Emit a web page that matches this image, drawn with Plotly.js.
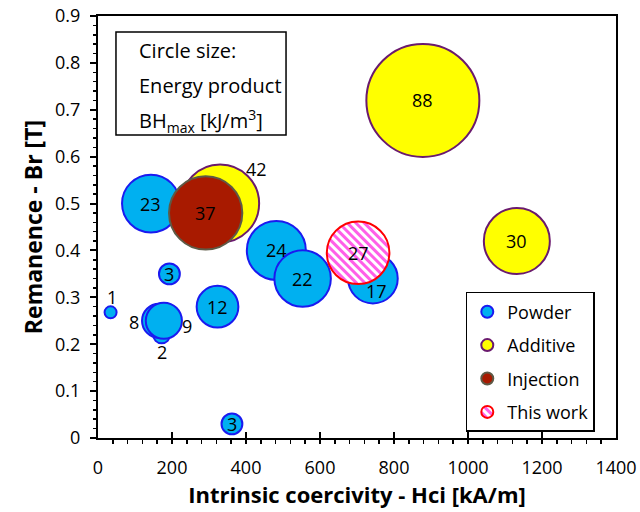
<!DOCTYPE html>
<html>
<head>
<meta charset="utf-8">
<script src="https://cdn.plot.ly/plotly-3.0.1.min.js"></script>
<style>
  html, body { margin: 0; padding: 0; background: #fff; }
  #chart { width: 640px; height: 512px; }
</style>
</head>
<body>
<div id="chart"></div>
<script>
// Bonded magnet comparison: remanence vs intrinsic coercivity,
// bubble area = energy product BHmax [kJ/m3]

// Powder-based magnets
const powderHci = [34, 172, 165, 178, 193, 143, 323, 482, 553, 743, 362];
const powderBr  = [0.268, 0.22, 0.25, 0.25, 0.35, 0.50, 0.28, 0.40, 0.34, 0.34, 0.03];
const powderBH  = [1, 2, 8, 9, 3, 23, 12, 24, 22, 17, 3];

// Magnets with additives
const additiveHci = [330, 878, 1132];
const additiveBr  = [0.50, 0.72, 0.42];
const additiveBH  = [42, 88, 30];

// Injection moulded magnet
const injectionHci = [291];
const injectionBr  = [0.48];
const injectionBH  = [37];

// Present work
const thisWorkHci = [703];
const thisWorkBr  = [0.395];
const thisWorkBH  = [27];

const seriesNames = ['Powder', 'Additive', 'Injection', 'This work'];

// label offsets (px) for labels that sit beside their bubble
const labelShift = {
  'Powder': [[1, 15], [0, -17], [-25, -1], [23, -5], [0, 0], [0, 0], [0, 0], [0, 0], [0, 0], [4, -12], [0, 0]],
  'Additive': [[36, 35], [0, 0], [0, 0]],
  'Injection': [[0, 0]],
  'This work': [[0, 0]]
};

const FONT = '"Open Sans", Lato, sans-serif';
const maxBH = Math.max(...powderBH, ...additiveBH, ...injectionBH, ...thisWorkBH);
const sizeref = 2 * maxBH / (113 * 113);

function bubbles(name, xs, ys, ss, fill, line, rank) {
  return {
    type: 'scatter', mode: 'markers', name: name,
    x: xs, y: ys, legendrank: rank, legendgroup: name,
    marker: {
      size: ss, sizemode: 'area', sizeref: sizeref, opacity: 1,
      color: fill, line: { color: line, width: 2 }
    },
    hoverinfo: 'x+y+text', text: ss.map(String)
  };
}

// drawing order: additive underneath powder, injection and this work on top
const traces = [
  bubbles('Additive', additiveHci, additiveBr, additiveBH, '#FFFF00', '#6A1A6E', 2),
  bubbles('Powder', powderHci, powderBr, powderBH, '#00B0F0', '#1A1AF0', 1),
  bubbles('Injection', injectionHci, injectionBr, injectionBH, '#A81A00', '#5E5A46', 3),
  bubbles('This work', thisWorkHci, thisWorkBr, thisWorkBH, '#FF5FE8', '#FF0000', 4)
];

const seriesData = {
  'Powder': [powderHci, powderBr, powderBH],
  'Additive': [additiveHci, additiveBr, additiveBH],
  'Injection': [injectionHci, injectionBr, injectionBH],
  'This work': [thisWorkHci, thisWorkBr, thisWorkBH]
};

const annotations = [];
seriesNames.forEach(name => {
  const [xs, ys, ss] = seriesData[name];
  xs.forEach((x, i) => {
    const sh = labelShift[name][i];
    annotations.push({
      x: x, y: ys[i], xref: 'x', yref: 'y', text: String(ss[i]),
      showarrow: false, xshift: sh[0], yshift: sh[1],
      font: { family: FONT, size: 18, color: '#000' }
    });
  });
});

// text box describing circle size
const boxLines = ['Circle size:', 'Energy product', 'BH<sub>max</sub> [kJ/m<sup>3</sup>]'];
const boxLineY = [0.919, 0.836, 0.752];
boxLines.forEach((t, i) => {
  annotations.push({
    x: 0.0753, y: boxLineY[i], xref: 'paper', yref: 'paper',
    xanchor: 'left', yanchor: 'middle', text: t, showarrow: false,
    font: { family: FONT, size: 20, color: '#000' }
  });
});

const axisCommon = {
  showline: true, linecolor: '#000', linewidth: 2, mirror: true,
  showgrid: false, zeroline: false,
  tickfont: { family: FONT, size: 18, color: '#000' },
  tickcolor: '#000', tickwidth: 2
};

const layout = {
  width: 640, height: 512,
  margin: { l: 98, r: 24, t: 16, b: 74 },
  paper_bgcolor: '#fff', plot_bgcolor: '#fff',
  showlegend: true,
  font: { family: FONT, color: '#000' },
  xaxis: Object.assign({}, axisCommon, {
    range: [0, 1400], dtick: 200, tick0: 0,
    ticks: 'inside', ticklen: 6, ticklabelstandoff: 12,
    minor: { ticks: 'outside', dtick: 40, ticklen: 4, tickcolor: '#000', tickwidth: 1.5 },
    title: { text: '<b>Intrinsic coercivity - Hci [kA/m]</b>', font: { family: FONT, size: 22, color: '#000' }, standoff: 10 }
  }),
  yaxis: Object.assign({}, axisCommon, {
    range: [0, 0.9], dtick: 0.1, tick0: 0,
    ticks: 'outside', ticklen: 6, ticklabelstandoff: 6,
    minor: { ticks: 'outside', dtick: 0.02, ticklen: 3, tickcolor: '#000', tickwidth: 1.5 },
    title: { text: '<b>Remanence - Br [T]</b>', font: { family: FONT, size: 23, color: '#000' }, standoff: 6 }
  }),
  legend: {
    x: 0.71, y: 0.346, xanchor: 'left', yanchor: 'top',
    bgcolor: '#fff', bordercolor: '#000', borderwidth: 1.5,
    font: { family: FONT, size: 18, color: '#000' },
    itemsizing: 'constant', itemwidth: 30, tracegroupgap: 7
  },
  shapes: [{
    type: 'rect', xref: 'paper', yref: 'paper',
    x0: 0.0347, x1: 0.363, y0: 0.718, y1: 0.962,
    line: { color: '#000', width: 1.5 }, fillcolor: 'rgba(0,0,0,0)', layer: 'above'
  }],
  annotations: annotations
};

Plotly.newPlot('chart', traces, layout, { displayModeBar: false, staticPlot: true }).then(gd => {
  // diagonal hatch fill for the "This work" bubble and its legend symbol
  const svgNS = 'http://www.w3.org/2000/svg';
  const defs = gd.querySelector('.main-svg defs');
  const pat = document.createElementNS(svgNS, 'pattern');
  pat.setAttribute('id', 'hatch-pink');
  pat.setAttribute('patternUnits', 'userSpaceOnUse');
  pat.setAttribute('width', '6');
  pat.setAttribute('height', '6');
  pat.setAttribute('patternTransform', 'rotate(-45)');
  const bg = document.createElementNS(svgNS, 'rect');
  bg.setAttribute('width', '6'); bg.setAttribute('height', '6'); bg.setAttribute('fill', '#FFFFFF');
  const st = document.createElementNS(svgNS, 'rect');
  st.setAttribute('width', '3'); st.setAttribute('height', '6'); st.setAttribute('fill', '#FF5FE8');
  pat.appendChild(bg); pat.appendChild(st);
  defs.appendChild(pat);

  const traceGroups = gd.querySelectorAll('.scatterlayer .trace');
  const last = traceGroups[traceGroups.length - 1];
  last.querySelectorAll('path.point').forEach(p => { p.style.fill = 'url(#hatch-pink)'; });
  gd.querySelectorAll('.legend .traces').forEach(g => {
    const t = g.querySelector('.legendtext');
    if (t && t.textContent === 'This work') {
      g.querySelectorAll('path.scatterpts').forEach(p => { p.style.fill = 'url(#hatch-pink)'; });
    }
  });
});
</script>
</body>
</html>
